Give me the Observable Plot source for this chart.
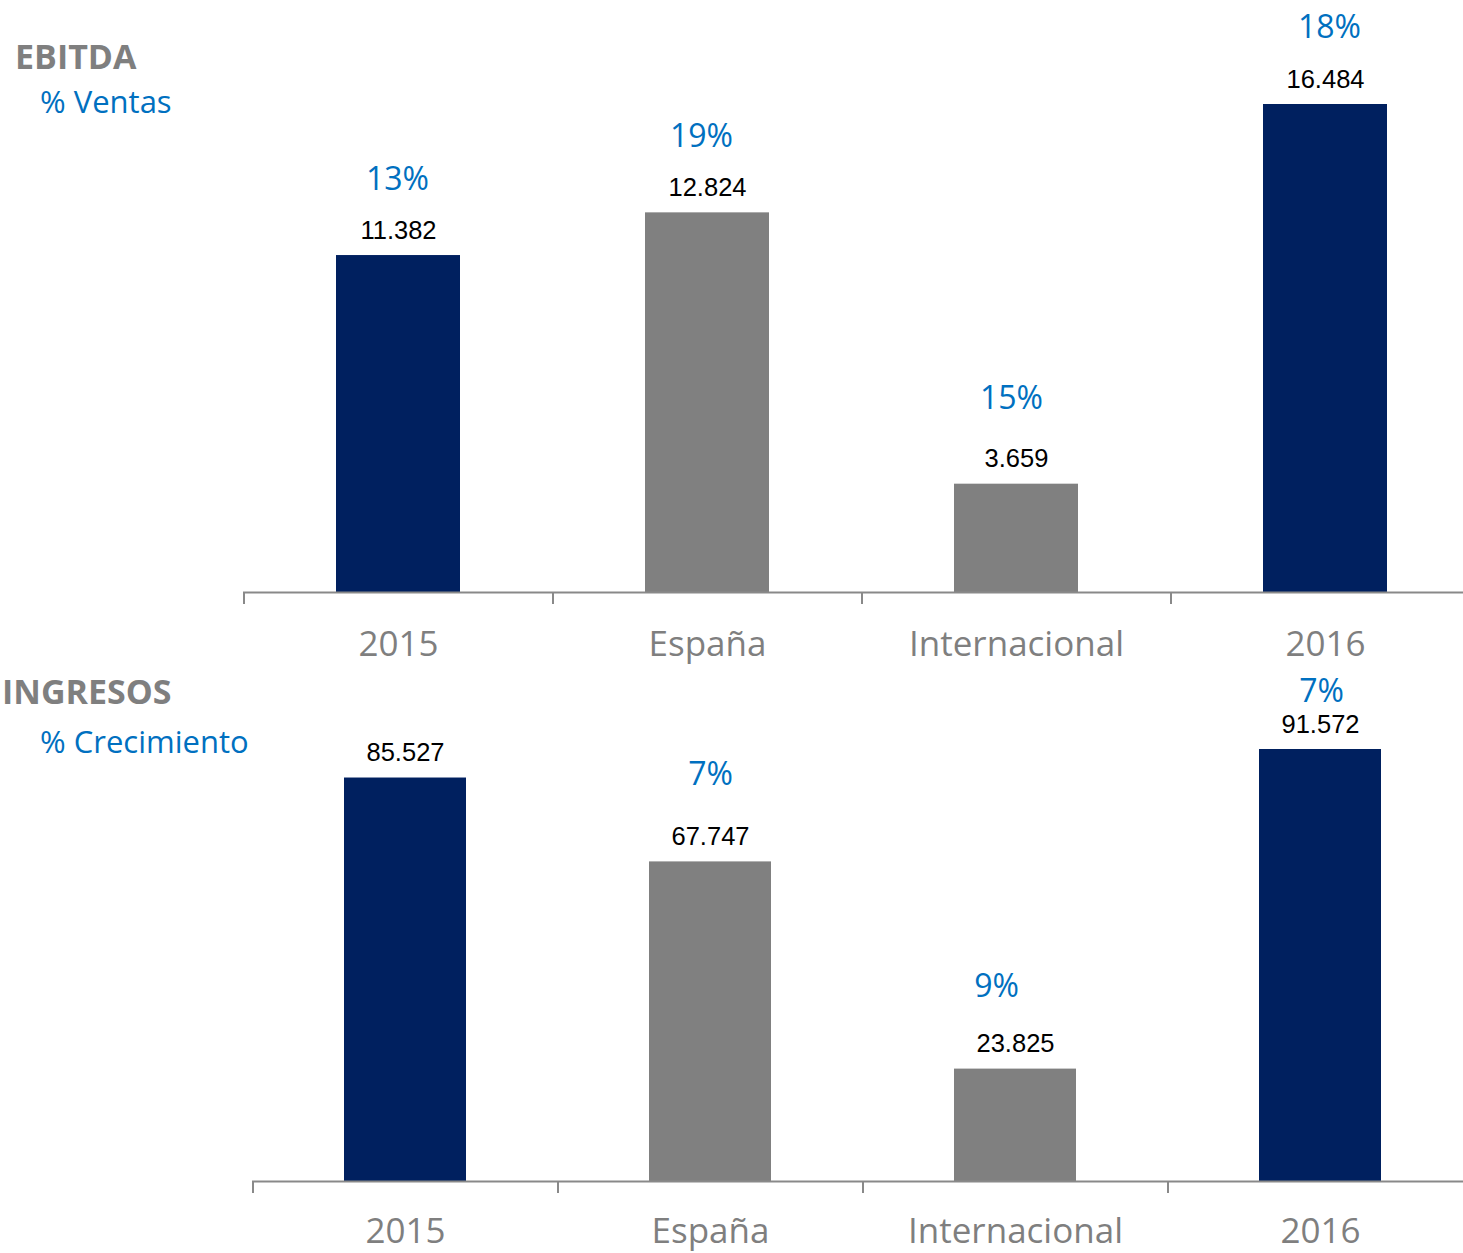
<!DOCTYPE html>
<html>
<head>
<meta charset="utf-8">
<script src="https://cdn.jsdelivr.net/npm/d3@7"></script>
<script src="https://cdn.jsdelivr.net/npm/@observablehq/plot@0.6"></script>
<style>
  html, body { margin: 0; padding: 0; background: #fff; }
  #wrap { position: relative; width: 1463px; height: 1253px; overflow: hidden; background: #fff; }
  .panel { position: absolute; left: 0; }
  .title { position: absolute; font-family: "Open Sans", sans-serif; font-weight: 700; color: #7f7f7f; font-size: 34px; line-height: 1; white-space: nowrap; }
  .sub { position: absolute; font-family: "Open Sans", sans-serif; color: #0070C0; font-size: 31px; line-height: 1; white-space: nowrap; }
</style>
</head>
<body>
<div id="wrap">
  <div id="top" class="panel" style="top:0px"></div>
  <div id="bottom" class="panel" style="top:665px"></div>
  <div class="title" style="left:15px; top:39px">EBITDA</div>
  <div class="sub" style="left:40px; top:86px">% Ventas</div>
  <div class="title" style="left:2px; top:674px">INGRESOS</div>
  <div class="sub" style="left:40px; top:726px">% Crecimiento</div>
</div>
<script>
const categories = ["2015", "España", "Internacional", "2016"];
const kinds = ["total", "segment", "segment", "total"];
const ebitda = [11382, 12824, 3659, 16484];
const ebitdaPct = ["13%", "19%", "15%", "18%"];
const ingresos = [85527, 67747, 23825, 91572];
const ingresosPct = [null, "7%", "9%", "7%"];

const NAVY = "#00205F";
const GRAY = "#808080";
const AXIS = "#898989";
const LABEL = "#7f7f7f";
const BLUE = "#0070C0";

const fmt = d3.formatLocale({decimal: ",", thousands: ".", grouping: [3], currency: ["", "€"]}).format(",d");

function panel(values, pcts, cfg) {
  const rows = categories.map((c, i) => ({cat: c, kind: kinds[i], value: values[i], pct: pcts[i], label: fmt(values[i])}));
  const pctMarks = rows.map((r, i) => r.pct == null ? null :
    Plot.text([r], {x: "cat", y: "value", text: "pct", dx: cfg.pctDx[i], dy: cfg.pctDy[i], fontSize: 32, fontFamily: "Open Sans", fill: BLUE}));
  return Plot.plot({
    width: 1463,
    height: cfg.height,
    marginLeft: cfg.left,
    marginRight: 0,
    marginTop: cfg.top,
    marginBottom: cfg.bottom,
    x: {domain: categories, range: [cfg.left, cfg.left + 4 * cfg.step], paddingInner: 0.6, paddingOuter: 0.3, axis: null},
    y: {domain: [0, d3.max(values)], axis: null},
    color: {domain: ["total", "segment"], range: [NAVY, GRAY]},
    style: {fontFamily: "Open Sans", background: "transparent", overflow: "visible"},
    marks: [
      Plot.barY(rows, {x: "cat", y: "value", fill: "kind"}),
      Plot.ruleY([0], {stroke: AXIS, strokeWidth: 2}),
      Plot.axisX({tickSize: 12, tickFormat: () => "", label: null, dx: -cfg.step / 2, stroke: AXIS, strokeWidth: 2, strokeOpacity: 1}),
      Plot.axisX({tickSize: 0, tickPadding: cfg.pad, label: null, fontSize: 35, fontFamily: "Open Sans", fill: LABEL}),
      Plot.text(rows, {x: "cat", y: "value", text: "label", dy: -25, fontSize: 25.5, fontFamily: "Liberation Sans", fill: "#000"}),
      ...pctMarks.filter(Boolean)
    ]
  });
}

document.getElementById("top").append(panel(ebitda, ebitdaPct, {
  height: 665, left: 243, step: 309, top: 104, bottom: 73, pad: 39,
  pctDy: [-76, -76, -85, -77], pctDx: [-1, -6, -5, 4]
}));
document.getElementById("bottom").append(panel(ingresos, ingresosPct, {
  height: 588, left: 252, step: 305, top: 84, bottom: 72, pad: 37,
  pctDy: [0, -87, -82, -58], pctDx: [0, 0, -19, 1]
}));
</script>
</body>
</html>
